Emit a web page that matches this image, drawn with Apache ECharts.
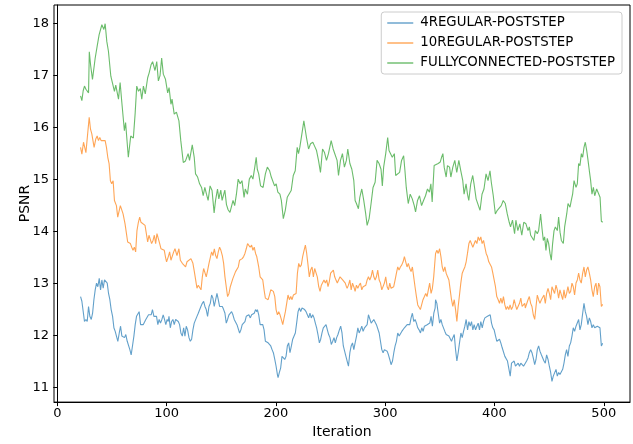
<!DOCTYPE html>
<html>
<head>
<meta charset="utf-8">
<script src="https://cdn.jsdelivr.net/npm/echarts@6/dist/echarts.min.js"></script>
<style>
  html, body { margin: 0; padding: 0; background: #fff; }
  #chart { width: 633px; height: 444px; }
</style>
</head>
<body>
<div id="chart"></div>
<script>
// ---- data (iteration, PSNR) ----
const seriesNames = ['4REGULAR-POSTSTEP', '10REGULAR-POSTSTEP', 'FULLYCONNECTED-POSTSTEP'];
const xTicks = [0, 100, 200, 300, 400, 500];
const yTicks = [11, 12, 13, 14, 15, 16, 17, 18];

const regular4 = [
[21.3,12.75],[22.5,12.66],[23.7,12.69],[24.9,12.27],[26.2,12.31],[27.4,12.27],[28.6,12.56],[29.8,12.37],[31.1,12.31],[32.3,12.43],[33.5,12.69],[34.7,12.88],[35.9,13.01],[37.1,12.94],[38.4,13.1],[39.6,12.88],[40.8,13.07],[42,12.91],[43.2,13.07],[44.5,13.07],[45.7,13.01],[46.9,12.81],[48.1,12.69],[49.3,12.5],[50.6,12.37],[51.8,12.15],[53,12.08],[54.2,12.11],[55.4,11.89],[56.7,12.05],[57.9,12.18],[59.1,11.99],[60.3,12.02],[61.5,11.96],[62.7,12.02],[64,11.89],[65.2,11.86],[66.4,11.73],[67.6,11.63],[68.8,11.8],[70.1,11.99],[71.3,12.21],[72.5,12.37],[73.7,12.4],[74.9,12.46],[76.2,12.21],[77.4,12.21],[78.6,12.21],[79.8,12.21],[81,12.31],[82.3,12.34],[83.5,12.4],[84.7,12.43],[85.9,12.4],[87.1,12.5],[88.4,12.37],[89.6,12.4],[90.8,12.37],[92,12.21],[93.2,12.31],[94.4,12.24],[95.7,12.31],[96.9,12.4],[98.1,12.31],[99.3,12.21],[100.5,12.31],[101.5,12.27],[102.2,12.37],[103.4,12.15],[104.6,12.27],[105.8,12.31],[107,12.21],[108.3,12.31],[109.5,12.31],[110.7,12.27],[111.9,12.21],[113.1,12.05],[114.4,11.99],[115.6,12.15],[116.8,11.99],[118,12.18],[119.2,12.11],[120.5,11.96],[121.7,11.89],[122.9,11.93],[124.1,12.11],[125.3,12.24],[126.6,12.21],[127.8,12.37],[129,12.43],[130.2,12.4],[131.4,12.56],[132.7,12.62],[133.9,12.66],[135.1,12.56],[136.3,12.5],[137.5,12.37],[138.8,12.56],[140,12.62],[141.2,12.78],[142.4,12.72],[143.6,12.56],[144.9,12.69],[146.1,12.81],[147.3,12.69],[148.5,12.56],[149.7,12.59],[151,12.56],[152.2,12.5],[153.4,12.43],[154.6,12.24],[155.8,12.31],[157.1,12.4],[158.3,12.37],[159.5,12.46],[160.7,12.4],[161.9,12.31],[163.2,12.34],[164.4,12.21],[165.6,12.24],[166.8,12.05],[168,12.11],[169.2,12.21],[170.5,12.24],[171.7,12.27],[172.9,12.37],[174.1,12.4],[175.3,12.4],[176.6,12.34],[177.8,12.4],[179,12.43],[180.2,12.43],[181.4,12.5],[182.5,12.46],[183.1,12.5],[184.3,12.4],[185.6,12.21],[186.8,12.18],[188,12.21],[189.2,12.11],[190.4,11.89],[191.6,11.89],[192.9,11.86],[194.1,11.86],[195.3,11.8],[196.5,11.73],[197.7,11.67],[199,11.54],[200.2,11.41],[201.4,11.25],[202,11.19],[203.2,11.29],[204.4,11.38],[205.6,11.6],[206.8,11.63],[208.1,11.54],[209.3,11.6],[210.5,11.8],[211.7,11.86],[212.9,11.67],[214.2,11.8],[215.4,11.93],[216.6,11.96],[217.8,12.05],[219,12.24],[220.3,12.46],[221.5,12.53],[222.7,12.46],[223.9,12.53],[225.1,12.56],[226.3,12.5],[227.6,12.46],[228.8,12.4],[230,12.34],[231.2,12.43],[232.4,12.34],[233.7,12.4],[234.9,12.34],[236.1,12.24],[237.3,12.15],[238.5,12.02],[239.8,11.86],[241,11.93],[242.2,12.05],[243.4,12.15],[244.6,12.15],[245.9,12.21],[247.1,12.11],[248.3,12.02],[249.5,11.96],[250.7,11.83],[252,11.89],[253.2,11.96],[254.4,11.86],[255.6,11.96],[256.8,12.02],[258.1,12.11],[259.3,12.18],[260.5,12.05],[261.7,11.8],[262.9,11.8],[264.1,11.6],[265.2,11.51],[266.4,11.41],[267.7,11.67],[268.9,11.8],[270.1,11.86],[271.3,11.73],[272.5,11.86],[273.8,11.99],[275,12.15],[276.2,12.05],[277.4,12.11],[278.6,12.18],[279.8,12.08],[281.1,12.15],[282.3,12.15],[283.5,12.21],[284.7,12.4],[285.9,12.37],[287.2,12.24],[288.4,12.21],[289.6,12.31],[290.8,12.34],[292,12.21],[293.3,12.24],[294.5,12.05],[295.7,11.89],[296.9,11.73],[298.1,11.67],[299.3,11.73],[300.6,11.73],[301.8,11.7],[303,11.63],[304.2,11.54],[305.4,11.44],[306.7,11.51],[307.9,11.67],[309.1,11.8],[310.3,11.89],[311.5,12.05],[312.8,11.99],[314,12.02],[315.2,12.08],[316.4,12.11],[317.6,12.15],[318.8,12.18],[320.1,12.21],[321.3,12.24],[322.5,12.21],[323.7,12.34],[324.9,12.43],[326.2,12.27],[327.4,12.31],[328.6,12.24],[329.8,12.15],[331,12.11],[332.3,12.05],[333.5,12.15],[334.7,12.08],[335.9,12.18],[337.1,12.15],[338.4,12.21],[339.6,12.18],[340.8,12.24],[342,12.37],[343.2,12.18],[344.5,12.43],[345.7,12.53],[346.1,12.69],[347.3,12.62],[348.5,12.43],[349.8,12.24],[351,12.31],[352.2,12.21],[353.4,12.24],[354.6,12.08],[355.8,12.02],[357.1,12.05],[358.3,11.99],[359.5,11.96],[360.7,11.89],[361.9,11.96],[363.2,12.02],[364.4,11.73],[365.6,11.51],[366.8,11.67],[368,11.86],[369.3,12.05],[370.5,11.96],[371.7,12.08],[372.9,12.18],[374.1,12.31],[375.4,12.11],[376.6,12.27],[377.8,12.18],[379,12.27],[380.2,12.11],[381.4,12.21],[382.7,12.11],[383.9,12.18],[385.1,12.24],[386.3,12.11],[387.5,12.27],[388.8,12.15],[390,12.27],[391.2,12.34],[392.4,12.31],[393.6,12.37],[394.9,12.4],[396.1,12.4],[397.3,12.24],[398.5,12.15],[399.7,12.11],[401,11.99],[402.2,11.89],[403.4,11.86],[404.6,11.93],[405.8,11.86],[407,11.77],[408.3,11.8],[409.5,11.6],[410.7,11.57],[411.9,11.51],[413.1,11.54],[414.4,11.22],[415.6,11.47],[416.8,11.44],[418,11.51],[419.2,11.41],[420.5,11.44],[421.7,11.47],[422.9,11.41],[424.1,11.47],[425.3,11.44],[426.6,11.41],[427.8,11.44],[428.2,11.38],[429.4,11.51],[430.7,11.57],[431.9,11.67],[433.1,11.73],[434.3,11.67],[435.5,11.57],[436.8,11.44],[438,11.54],[439.2,11.73],[440.4,11.8],[441.6,11.7],[442.9,11.63],[444.1,11.6],[445.3,11.51],[446.5,11.47],[447.7,11.63],[449,11.54],[450.2,11.41],[451.4,11.29],[452.6,11.12],[453.8,11.22],[455,11.19],[456.3,11.35],[457.5,11.22],[458.7,11.29],[459.9,11.25],[461.1,11.25],[462.4,11.35],[463.6,11.47],[464.8,11.63],[466,11.73],[467.2,11.6],[468.5,11.8],[469.7,11.86],[470.9,11.99],[472.1,12.15],[473.3,12.08],[474.6,12.18],[475.8,12.15],[477,12.31],[478.2,12.11],[479.4,12.21],[480.7,12.43],[481.9,12.62],[483.1,12.46],[484.3,12.37],[485.5,12.21],[486.8,12.34],[488,12.27],[489.2,12.15],[490.4,12.21],[491.7,12.15],[492.9,12.18],[494.1,12.18],[495.3,12.21],[496.5,12.15],[497.8,11.8],[499,11.85]
];

const regular10 = [
[21.3,15.62],[22.5,15.49],[24,15.72],[25,15.69],[26.2,15.52],[27.7,15.49],[29.2,16.2],[30.4,15.97],[31.6,15.88],[32.8,15.91],[33.7,15.62],[35.2,15.78],[36.5,15.84],[37.7,15.75],[38.9,15.81],[40.1,15.75],[41.9,15.78],[43.8,15.75],[45,15.62],[46.2,15.43],[47.4,15.31],[48.6,14.98],[49.8,14.92],[51.1,14.98],[52.3,14.6],[54.1,14.5],[55.3,14.28],[56.5,14.28],[57.7,14.5],[59,14.47],[60.2,14.34],[62,14.15],[63.2,14.18],[64.4,13.8],[65.7,13.83],[66.9,13.77],[68.1,13.7],[69.3,13.64],[70.5,13.7],[71.7,13.61],[72.9,14.02],[74.2,14.18],[75.4,14.28],[76.6,14.18],[78.4,14.18],[80.3,14.12],[81.5,14.15],[82.7,13.8],[83.9,13.93],[85.1,13.96],[86.3,13.77],[87.6,13.83],[88.8,13.93],[90,13.77],[91.2,13.96],[92.4,13.99],[93.7,13.77],[94.9,13.67],[96.1,13.64],[97.9,13.64],[99.1,13.5],[100,13.42],[101.6,13.52],[102.8,13.61],[104,13.45],[105.3,13.42],[106.5,13.61],[107.7,13.67],[109.5,13.54],[111.3,13.67],[112.6,13.45],[114.4,13.39],[116.2,13.36],[117.4,13.32],[118.7,13.42],[120.5,13.45],[122.3,13.48],[124.1,13.39],[125.4,13.23],[126.6,13.07],[127.8,12.91],[129,12.97],[130.2,12.94],[131.5,12.88],[132.7,13.13],[133.9,13.29],[135.1,13.26],[136.3,13.13],[137.6,13.26],[138.8,13.39],[140,13.42],[141.2,13.61],[142.4,13.54],[143.7,13.67],[144.9,13.54],[146.1,13.48],[147.3,13.61],[148.5,13.7],[149.7,13.64],[151,13.54],[152.2,13.39],[153.4,13.13],[154.6,12.94],[155.8,12.75],[157.1,12.81],[158.3,12.94],[159.5,12.97],[160.7,13.1],[161.9,13.07],[163.1,13.23],[164.4,13.2],[165.6,13.32],[166.8,13.45],[168,13.48],[169.2,13.48],[170.5,13.52],[171.7,13.58],[172.9,13.67],[174.1,13.77],[175.3,13.77],[176.5,13.7],[177.8,13.74],[179,13.64],[180.2,13.7],[181.4,13.58],[182.5,13.52],[183.1,13.52],[184.3,13.32],[185.6,13.13],[186.8,13.13],[188,13.07],[189.2,12.88],[190.4,12.72],[191.6,12.75],[192.9,12.69],[194.1,12.78],[195.3,12.88],[196.5,12.88],[197.7,12.85],[199,12.75],[200.2,12.5],[201.4,12.4],[202.6,12.46],[203.8,12.4],[205,12.31],[206.3,12.21],[207.5,12.34],[208.7,12.46],[209.9,12.62],[211.1,12.78],[212.4,12.69],[213.6,12.75],[214.8,12.69],[216,12.78],[217.2,12.78],[218.5,12.81],[219.7,13.2],[220.9,13.39],[222.1,13.32],[223.3,13.36],[224.5,13.52],[225.8,13.64],[227,13.74],[228.2,13.58],[229.4,13.36],[230.6,13.13],[231.8,13.26],[233.1,13.32],[234.3,13.13],[235.5,13.29],[236.7,13.26],[237.9,13.13],[239.2,12.94],[240.4,12.85],[241.6,12.97],[242.8,12.94],[244,13.07],[245.3,13.01],[246.5,13.07],[247.7,12.94],[248.9,13.04],[250.1,13.2],[251.4,13.23],[252.6,13.26],[253.8,13.13],[255,13.07],[256.2,13.01],[257.4,13.07],[258.7,13.13],[259.9,13.1],[261.1,13.07],[262.3,13.1],[263.5,13.01],[264.4,12.95],[265.2,12.91],[266.4,12.97],[267.7,13.07],[268.9,12.88],[270.1,13.01],[271.3,12.94],[272.5,12.85],[273.7,12.97],[275,12.91],[276.2,12.97],[277.4,13.01],[278.6,12.88],[279.8,12.94],[281,12.91],[282.3,12.97],[283.5,13.07],[284.7,13.13],[285.9,13.07],[287.1,13.13],[288.4,13.26],[289.6,13.13],[290.8,13.07],[292,13.13],[293.2,13.26],[294.5,13.07],[295.7,13.01],[296.9,12.88],[298.1,12.91],[299.3,13.01],[300.5,13.13],[301.8,12.94],[303,12.88],[304.2,13.01],[305.4,12.91],[306.6,12.88],[307.8,12.94],[309.1,13.07],[310.3,13.2],[311.5,13.32],[312.7,13.26],[313.9,13.32],[315.2,13.36],[316.4,13.42],[317.6,13.52],[318.8,13.42],[320,13.32],[321.2,13.39],[322.5,13.29],[323.7,13.23],[324.9,13.32],[326.1,13.13],[327.3,12.94],[328.6,12.75],[329.8,12.59],[331,12.56],[332.2,12.5],[333.4,12.53],[334.6,12.69],[335.9,12.75],[337.1,12.81],[338.3,12.75],[339.5,12.88],[340.7,13.01],[342,12.81],[343.2,12.91],[344.4,13.13],[345.6,13.45],[346.1,13.58],[347.3,13.64],[348.5,13.58],[349.8,13.67],[351,13.52],[352.2,13.32],[353.4,13.23],[354.6,13.32],[355.8,13.2],[357.1,13.13],[358.3,13.07],[359.5,12.88],[360.7,12.69],[361.9,12.56],[363.2,12.69],[364.4,12.5],[365.6,12.27],[366.8,12.56],[368,12.78],[369.2,13.01],[370.5,13.2],[371.7,13.26],[372.9,13.32],[374.1,13.42],[375.3,13.58],[376.6,13.77],[377.8,13.83],[379,13.83],[380.2,13.7],[381.4,13.7],[382.6,13.83],[383.9,13.77],[385.1,13.9],[386.3,13.83],[387.5,13.9],[388.7,13.77],[390,13.83],[391.2,13.7],[392.4,13.58],[393.6,13.52],[394.8,13.42],[396,13.39],[397.3,13.32],[398.5,13.2],[399.7,13.07],[400.9,12.94],[402.1,12.75],[403.4,12.69],[404.6,12.62],[405.8,12.72],[407,12.62],[408.2,12.75],[409.5,12.59],[410.7,12.5],[411.9,12.56],[413.1,12.5],[414.3,12.59],[415.5,12.5],[416.8,12.56],[418,12.69],[419.2,12.59],[420.4,12.5],[421.6,12.56],[422.9,12.62],[424.1,12.72],[425.3,12.56],[426.5,12.53],[427.7,12.62],[428.2,12.53],[429.4,12.56],[430.7,12.69],[431.9,12.75],[433.1,12.62],[434.3,12.56],[435.5,12.4],[436.8,12.31],[438,12.56],[439.2,12.78],[440.4,12.69],[441.6,12.62],[442.9,12.69],[444.1,12.72],[445.3,12.78],[446.5,12.62],[447.7,12.81],[449,12.91],[450.2,12.81],[451.4,12.69],[452.6,12.94],[453.8,12.91],[455,12.81],[456.3,12.97],[457.5,12.88],[458.7,12.72],[459.9,12.88],[461.1,12.85],[462.4,12.69],[463.6,12.88],[464.8,12.72],[466,12.81],[467.2,12.94],[468.5,12.81],[469.7,12.85],[470.9,13.01],[472.1,12.94],[473.3,12.78],[474.6,13.01],[475.8,13.07],[477,13.2],[478.2,13.07],[479.4,13.01],[480.7,13.2],[481.9,13.32],[483.1,13.13],[484.3,13.26],[485.5,13.32],[486.8,13.2],[488,13.07],[489.2,12.88],[490.4,12.75],[491.7,12.94],[492.9,13.01],[494.1,12.78],[495.3,13.01],[496.5,12.94],[497.8,12.56],[499,12.6]
];

const fullyConnected = [
[21.3,16.61],[22.5,16.52],[23.7,16.71],[24.9,16.8],[26.2,16.74],[27.4,16.71],[28.6,16.67],[29.3,17.46],[30.5,17.2],[32.2,16.93],[34.7,17.34],[36.5,17.57],[38.3,17.79],[40.8,17.98],[42.6,17.89],[43.8,18.0],[45.3,17.66],[46.8,17.47],[49,16.99],[50.5,17.0],[52.3,16.7],[53.5,16.82],[56,16.55],[57.5,16.87],[59,16.5],[61.4,15.94],[62.5,16.1],[65,15.43],[67.2,15.84],[69.6,15.8],[71.2,16.26],[72.7,16.8],[74.3,16.7],[76,16.75],[77.3,16.55],[78.8,16.8],[80.5,16.65],[82.7,16.96],[84,17.05],[85.8,17.21],[87.2,17.27],[89.4,17.1],[91,17.27],[92.5,16.9],[94,17.0],[95.5,17.34],[97,17.03],[99,16.93],[101,16.67],[102.3,16.77],[104,16.45],[105,16.55],[107,16.26],[109,16.3],[111.3,16.13],[113,15.75],[115.3,15.33],[117.3,15.36],[119.7,15.5],[121,15.37],[123.5,15.67],[125.3,15.43],[126.5,15.11],[128.4,15.05],[130.2,14.92],[132,14.85],[133.5,14.69],[135,14.85],[136.5,14.72],[138,14.6],[139.8,14.88],[141.6,14.79],[143.5,14.36],[144.8,14.6],[146.6,14.82],[147.8,14.63],[149.6,14.8],[150.8,14.6],[153.3,14.8],[154.8,14.52],[156.3,14.42],[158,14.37],[159.3,14.36],[160.8,14.6],[162.3,14.5],[163.9,14.72],[165.5,15.01],[167.3,14.92],[169,14.98],[170.9,14.66],[172,14.82],[174,14.72],[175.7,15.01],[177.5,15.08],[179,15.01],[180.7,15.24],[182,15.43],[183,15.2],[184.3,15.11],[186,14.88],[188.3,14.85],[190.4,15.11],[192.2,15.24],[194.3,15.17],[195.8,15.05],[197.3,15.05],[198.8,14.88],[200.3,14.92],[201.8,14.76],[203.7,14.72],[205,14.6],[206.8,14.25],[208.6,14.41],[210.4,14.66],[212.2,14.69],[214,14.79],[215.9,15.08],[217.7,15.17],[219.5,15.62],[220.7,15.5],[221.9,15.62],[223.8,15.88],[225.6,16.13],[226.8,15.97],[228,15.81],[229.9,15.59],[231.7,15.69],[233.8,15.72],[235.3,15.65],[237.2,15.56],[239,15.37],[240.8,15.14],[242.7,15.59],[244.5,15.52],[246.3,15.37],[248.1,15.5],[250.6,15.75],[252.4,15.59],[254.2,15.56],[256,15.37],[257.3,15.08],[259.1,15.37],[260.9,15.5],[262.7,15.24],[264.5,15.37],[265.8,15.59],[267.7,15.31],[269.5,15.2],[271.3,14.98],[272.5,14.6],[273.7,14.54],[275.5,14.44],[276.8,14.66],[278.6,14.82],[280.4,14.6],[282.2,14.34],[283.5,14.12],[285.3,14.25],[287.1,14.54],[288.9,14.85],[290.8,14.95],[292.6,15.37],[294.4,15.31],[296.2,15.2],[297.4,14.88],[298.6,15.24],[300.5,15.5],[302.3,15.81],[303.5,15.56],[305.3,15.59],[306.5,15.43],[308.4,15.5],[309.6,15.08],[311.4,15.11],[313.2,15.14],[315,15.37],[316.9,15.46],[318.1,15.17],[319.3,14.85],[321.1,14.54],[322.9,14.72],[324.8,14.63],[326.6,14.5],[327.8,14.38],[329.6,14.6],[331.4,14.69],[333.3,14.5],[335.1,14.6],[336.9,14.69],[338.7,14.82],[340.5,14.76],[341.8,14.92],[343,14.57],[344.8,15.27],[346.6,15.24],[348.5,15.31],[350.4,15.34],[351.6,15.43],[352.8,15.5],[354,15.24],[355.8,15.05],[357,15.27],[358.9,15.24],[360.1,15.05],[361.9,15.24],[363.7,15.37],[365.5,15.14],[367.4,15.37],[369.2,15.17],[371,14.98],[372.2,14.72],[374,14.92],[375.3,14.72],[376.5,14.6],[378.3,14.92],[380.1,15.08],[381.3,14.92],[383.2,14.63],[385,14.66],[386.8,14.41],[388.6,14.72],[390.4,14.82],[392.3,15.11],[394.1,14.98],[395.9,15.17],[397.1,14.95],[398.9,14.69],[400.8,14.34],[402.6,14.41],[404.4,14.38],[406.2,14.5],[408,14.6],[409.9,14.54],[411.7,14.34],[413.5,14.18],[414.7,14.09],[416.5,14.22],[418.4,13.96],[419.6,14.22],[421.4,14.02],[423.2,14.15],[425,13.93],[426.8,14.18],[428.8,14.15],[430.7,14.02],[431.9,14.09],[433.1,13.93],[434.9,13.9],[436.1,13.83],[437.4,14.02],[439.2,13.96],[440.4,14.02],[442.2,14.34],[443.5,14.06],[444.7,13.83],[445.9,13.9],[447.1,13.64],[448.3,13.87],[449.6,13.77],[450.8,13.58],[452,13.45],[453.2,13.77],[454.5,14.02],[455.7,14.09],[457.5,14.02],[458.7,14.28],[460,13.99],[461.2,13.83],[463,13.77],[464.2,14.09],[466.1,14.34],[467.3,14.54],[469.1,14.47],[470.3,14.6],[471.5,14.72],[472.8,14.98],[474.6,14.85],[475.8,14.92],[477,15.31],[478.2,15.27],[479.5,15.5],[480.7,15.43],[481.9,15.62],[483.1,15.72],[484.4,15.56],[485.6,15.37],[486.8,15.17],[488,14.98],[489.2,14.72],[490.5,14.85],[491.7,14.69],[493.5,14.82],[495.3,14.85],[496.6,14.66],[497.8,14.2],[499,14.18]
];

const palette = ['#1f77b4', '#ff7f0e', '#2ca02c'];
const allData = [regular4, regular10, fullyConnected];

const chart = echarts.init(document.getElementById('chart'), null, { renderer: 'canvas' });
const font = 'DejaVu Sans';

chart.setOption({
  animation: false,
  backgroundColor: '#fff',
  color: palette,
  grid: {
    left: 54, right: 3, top: 5, bottom: 39,
    show: true, borderColor: '#000', borderWidth: 1, backgroundColor: 'transparent'
  },
  legend: {
    right: 11, top: 12,
    orient: 'vertical',
    icon: 'rect',
    itemWidth: 26, itemHeight: 1.4,
    itemGap: 6,
    padding: [4, 7, 4, 6],
    backgroundColor: 'rgba(255,255,255,0.8)',
    borderColor: '#cccccc', borderWidth: 1, borderRadius: 3,
    textStyle: { fontFamily: font, fontSize: 13.3, color: '#000', padding: [0, 0, 0, 2], lineHeight: 14 },
    data: seriesNames.map((n, i) => ({ name: n, itemStyle: { color: palette[i], opacity: 0.7 } }))
  },
  xAxis: {
    type: 'value', min: -3, max: 524,
    name: 'Iteration', nameLocation: 'middle', nameGap: 19,
    nameTextStyle: { fontFamily: font, fontSize: 14, color: '#000' },
    splitLine: { show: false },
    axisLine: { show: true, lineStyle: { color: '#000', width: 1 } },
    axisTick: { show: true, customValues: xTicks, length: 4, lineStyle: { color: '#000' } },
    axisLabel: { customValues: xTicks, fontFamily: font, fontSize: 13, color: '#000', margin: 5 }
  },
  yAxis: {
    type: 'value', min: 10.72, max: 18.36,
    name: 'PSNR', nameLocation: 'middle', nameGap: 22, nameMoveOverlap: false,
    nameTextStyle: { fontFamily: font, fontSize: 14, color: '#000' },
    splitLine: { show: false },
    axisLine: { show: true, lineStyle: { color: '#000', width: 1 } },
    axisTick: { show: true, customValues: yTicks, length: 4, lineStyle: { color: '#000' } },
    axisLabel: { customValues: yTicks, fontFamily: font, fontSize: 13, color: '#000', margin: 5 }
  },
  series: seriesNames.map((n, i) => ({
    name: n,
    type: 'line',
    data: allData[i],
    symbol: 'none',
    lineStyle: { width: 1.1, color: palette[i], opacity: 0.7 },
    itemStyle: { color: palette[i] },
    emphasis: { disabled: true }
  }))
});
</script>
</body>
</html>
